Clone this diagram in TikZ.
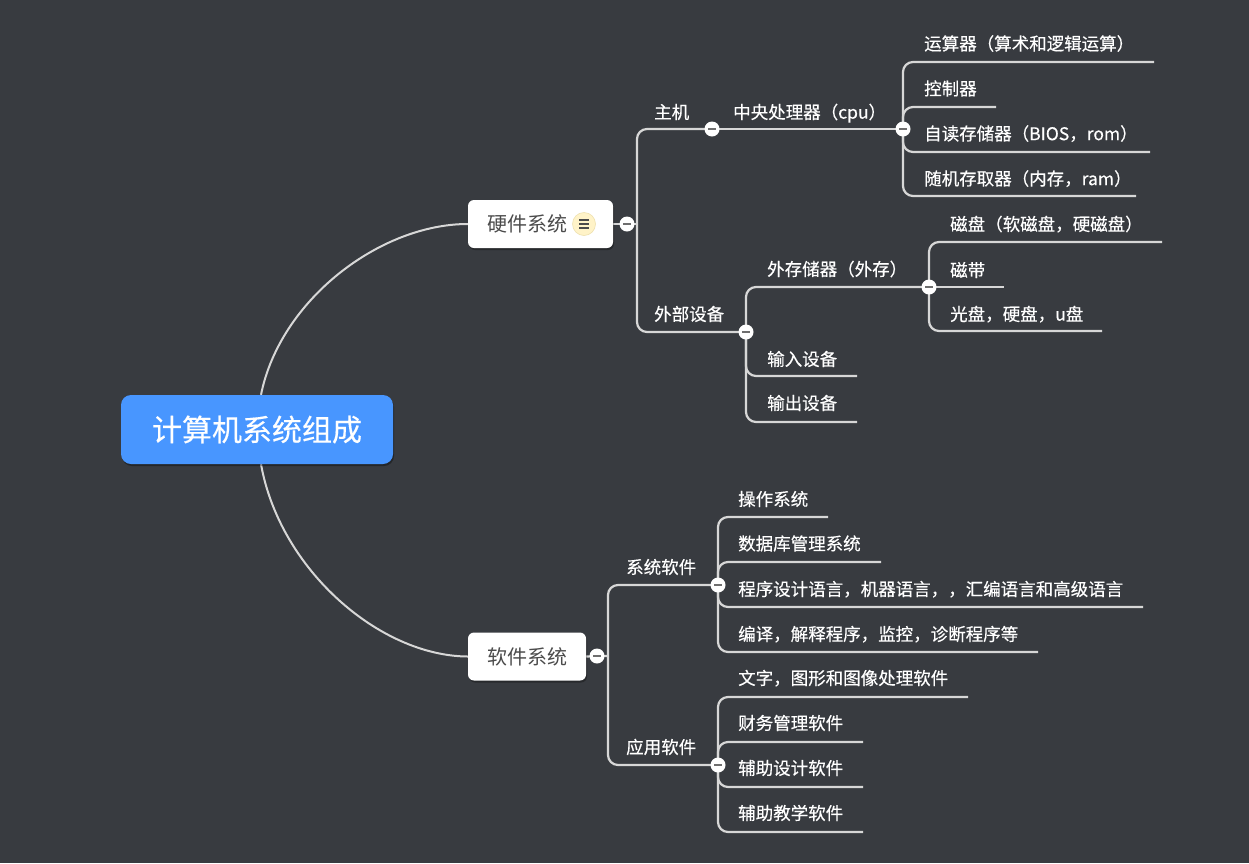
\documentclass[tikz,border=0pt]{standalone}
\usepackage{fontspec}
\newfontfamily\cjk{Noto Sans CJK SC}
\newfontfamily\cjkb[FakeBold=0.35]{Noto Sans CJK SC}
\usetikzlibrary{shadows}
\definecolor{bgc}{RGB}{56,59,64}
\definecolor{rootblue}{RGB}{72,150,255}
\definecolor{linec}{RGB}{215,215,215}
\definecolor{topictext}{RGB}{75,75,75}
\definecolor{iconbg}{RGB}{255,243,200}
\definecolor{iconborder}{RGB}{238,225,175}
\definecolor{minusc}{RGB}{110,110,110}
\pgfdeclarelayer{canvas}
\pgfdeclarelayer{lines}
\pgfsetlayers{canvas,lines,main}
\begin{document}
\begin{tikzpicture}[x=1pt,y=-1pt,
  conn/.style={draw=linec, line width=2.2pt, rounded corners=10pt},
  curvec/.style={draw=linec, line width=2pt},
  leaf/.style={font=\cjkb\fontsize{17.5}{21}\selectfont, text=white, inner sep=0pt,
    anchor=west, text height=15.4pt, text depth=2.1pt},
  topic/.style={font=\cjk\fontsize{20}{24}\selectfont, text=topictext, fill=white,
    rounded corners=6pt, inner sep=0pt, text height=17.6pt, text depth=2.4pt,
    minimum height=48pt,
    drop shadow={shadow xshift=1pt, shadow yshift=-2pt, opacity=0.3, fill=black}},
  rootbox/.style={font=\cjkb\fontsize{30}{36}\selectfont, text=white, fill=rootblue,
    rounded corners=10pt, inner sep=0pt, text height=26.4pt, text depth=3.6pt,
    minimum width=272pt, minimum height=69pt,
    drop shadow={shadow xshift=1pt, shadow yshift=-2pt, opacity=0.35, fill=black}},
  fold/.style={circle, fill=white, minimum size=15pt, inner sep=0pt,
    path picture={\draw[minusc, line width=2.5pt]
      ([xshift=-4pt]path picture bounding box.center) --
      ([xshift=4pt]path picture bounding box.center);}},
  iconc/.style={circle, fill=iconbg, draw=iconborder, line width=0.6pt,
    minimum size=23pt, inner sep=0pt,
    path picture={\foreach \dy in {-4,0,4}{\draw[topictext, line width=1.4pt]
      ([xshift=-5pt,yshift=\dy pt]path picture bounding box.center) --
      ([xshift=5pt,yshift=\dy pt]path picture bounding box.center);}}},
]
\begin{pgfonlayer}{canvas}
\fill[bgc] (0,0) rectangle (1249,863);
\end{pgfonlayer}
\useasboundingbox (0,0) rectangle (1249,863);

% main nodes
\node[rootbox] (root) at (257,429.5) {计算机系统组成};
\node[topic, minimum width=145pt] (hw) at (540.5,224) {硬件系统\kern27pt\relax};
\node[iconc] (hwicon) at (584,224) {};
\node[topic, minimum width=118pt] (sw) at (527,656.5) {软件系统};

% fold circles
\node[fold] (hwc) at (627,224) {};
\node[fold] (zj) at (712,129) {};
\node[fold] (cpu) at (903,129) {};
\node[fold] (wb) at (746,332) {};
\node[fold] (wc) at (929,287) {};
\node[fold] (swc) at (597,656) {};
\node[fold] (xt) at (718,585) {};
\node[fold] (yy) at (718,765) {};

\coordinate (hwv) at (637,224);
\coordinate (swv) at (608,656);

% branch labels
\node[leaf] (lzj) at (654,112) {主机};
\node[leaf] (lcpu) at (733,112) {中央处理器（cpu）};
\node[leaf] (lwb) at (654,314) {外部设备};
\node[leaf] (lwc) at (767,269) {外存储器（外存）};
\node[leaf] (lxt) at (626,567) {系统软件};
\node[leaf] (lyy) at (626,747) {应用软件};

% cpu leaves
\node[leaf] (l1) at (924,43.5) {运算器（算术和逻辑运算）};
\node[leaf] (l2) at (924,88.5) {控制器};
\node[leaf] (l3) at (924,133.5) {自读存储器（BIOS，rom）};
\node[leaf] (l4) at (924,178.5) {随机存取器（内存，ram）};
\coordinate (e1) at (1154,62);
\coordinate (e2) at (996,107);
\coordinate (e3) at (1150,152);
\coordinate (e4) at (1136,196);

% external leaves
\node[leaf] (lin) at (767,359) {输入设备};
\node[leaf] (lout) at (767,403) {输出设备};
\coordinate (ein) at (857,376);
\coordinate (eout) at (857,422);

\node[leaf] (lcp) at (950,224) {磁盘（软磁盘，硬磁盘）};
\node[leaf] (lcd) at (950,270) {磁带};
\node[leaf] (lgp) at (950,314) {光盘，硬盘，u盘};
\coordinate (ecp) at (1162,242);
\coordinate (ecd) at (1004,287);
\coordinate (egp) at (1102,331);

% system software leaves
\node[leaf] (s1) at (738,499) {操作系统};
\node[leaf] (s2) at (738,543.5) {数据库管理系统};
\node[leaf] (s3) at (738,589) {程序设计语言，机器语言，，汇编语言和高级语言};
\node[leaf] (s4) at (738,634) {编译，解释程序，监控，诊断程序等};
\coordinate (es1) at (828,517);
\coordinate (es2) at (881,562);
\coordinate (es3) at (1143,607);
\coordinate (es4) at (1038,652);

% application software leaves
\node[leaf] (a1) at (738,678) {文字，图形和图像处理软件};
\node[leaf] (a2) at (738,723) {财务管理软件};
\node[leaf] (a3) at (738,768) {辅助设计软件};
\node[leaf] (a4) at (738,813) {辅助教学软件};
\coordinate (ea1) at (968,697);
\coordinate (ea2) at (863,742);
\coordinate (ea3) at (863,787);
\coordinate (ea4) at (863,832);

\begin{pgfonlayer}{lines}
\draw[curvec] ([xshift=4pt]root.north) .. controls (280,300) and (380,224) .. (hw.west);
\draw[curvec] ([xshift=4pt]root.south) .. controls (280,570) and (380,656) .. (sw.west);

\draw[conn] (hw.east) -- (hwc.center) -- (hwv);
\draw[conn] (hwv) |- (zj.center);
\draw[conn] (hwv) |- (wb.center);
\draw[conn] (zj.center) -- (cpu.center);
\foreach \e in {e1,e2,e3,e4} \draw[conn] (cpu.center) |- (\e);
\draw[conn] (wb.center) |- (wc.center);
\draw[conn] (wb.center) |- (ein);
\draw[conn] (wb.center) |- (eout);
\draw[conn] (wc.center) |- (ecp);
\draw[conn] (wc.center) -- (ecd);
\draw[conn] (wc.center) |- (egp);

\draw[conn] (sw.east) -- (swc.center) -- (swv);
\draw[conn] (swv) |- (xt.center);
\draw[conn] (swv) |- (yy.center);
\foreach \e in {es1,es2,es3,es4} \draw[conn] (xt.center) |- (\e);
\foreach \e in {ea1,ea2,ea3,ea4} \draw[conn] (yy.center) |- (\e);
\end{pgfonlayer}
\end{tikzpicture}
\end{document}
